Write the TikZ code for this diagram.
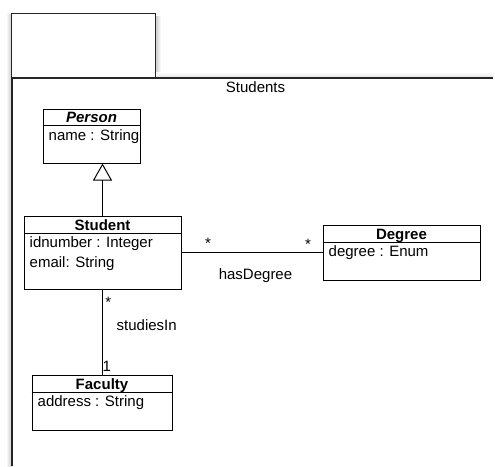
\documentclass[tikz,border=0pt]{standalone}
\usepackage{fontspec}
\setmainfont{Liberation Sans}
\usetikzlibrary{arrows.meta}

\begin{document}
\begin{tikzpicture}[x=1pt,y=-1pt,
  font=\fontsize{15}{19}\selectfont,
  frame/.style={draw=black!85, line width=1.2pt},
  classbox/.style={draw, line width=1pt, fill=white, inner sep=0pt},
  classtitle/.style={anchor=base, inner sep=0pt, font=\fontsize{15}{19}\selectfont\bfseries},
  attr/.style={anchor=base west, inner sep=0pt},
  lbl/.style={inner sep=0pt},
  link/.style={line width=1pt}
]
\useasboundingbox (0,0) rectangle (495,466);

% soft shadows along the package outline
\shade[left color=white, right color=black!22] (6,14) rectangle (12,466);
\shade[left color=black!22, right color=white] (155,16) rectangle (161,78);
\shade[top color=white, bottom color=black!12] (155,72) rectangle (493,78);

% package frame: tab and body
\node[inner sep=0pt, minimum width=143pt, minimum height=64pt] (tab) at (83.5,46) {};
\draw[frame] (tab.south west) -- (tab.north west) -- (tab.north east) -- (tab.south east);
\coordinate (bodyTL) at (12,78);
\coordinate (bodyTR) at (493,78);
\coordinate (bodyBL) at (12,466);
\draw[frame] (bodyTR) -- (bodyTL) -- (bodyBL);
\node[anchor=base, inner sep=0pt] (pkgname) at (255.5,92.5) {Students};

% Person
\node[classbox, minimum width=97pt, minimum height=54pt] (person) at (91.5,136) {};
\draw[link] ([yshift=-17pt]person.north west) -- ([yshift=-17pt]person.north east);
\node[classtitle] (personT) at ([yshift=-13.5pt]person.north) {\itshape Person};
\node[attr] (personA) at ([xshift=6pt,yshift=-32pt]person.north west) {name : String};

% Student
\node[classbox, minimum width=157pt, minimum height=73pt] (student) at (102.5,252.5) {};
\draw[link] ([yshift=-18pt]student.north west) -- ([yshift=-18pt]student.north east);
\node[classtitle] (studentT) at ([yshift=-14.5pt]student.north) {Student};
\node[attr] (studentA) at ([xshift=6pt,yshift=-31.5pt]student.north west) {idnumber : Integer};
\node[attr] (studentB) at ([xshift=6pt,yshift=-51.5pt]student.north west) {email: String};

% Degree
\node[classbox, minimum width=157pt, minimum height=55pt] (degree) at (401.5,252.5) {};
\draw[link] ([yshift=-18pt]degree.north west) -- ([yshift=-18pt]degree.north east);
\node[classtitle] (degreeT) at ([yshift=-14.5pt]degree.north) {Degree};
\node[attr] (degreeA) at ([xshift=6pt,yshift=-32pt]degree.north west) {degree : Enum};

% Faculty
\node[classbox, minimum width=140pt, minimum height=55pt] (faculty) at (102,402.5) {};
\draw[link] ([yshift=-18pt]faculty.north west) -- ([yshift=-18pt]faculty.north east);
\node[classtitle] (facultyT) at ([yshift=-14.5pt]faculty.north) {Faculty};
\node[attr] (facultyA) at ([xshift=6pt,yshift=-32pt]faculty.north west) {address : String};

% generalization Student -> Person
\draw[link, -{Triangle[open, length=17pt, width=19pt, line width=1pt]}]
  (student.north) -- (student.north |- person.south);

% association hasDegree
\draw[link] (student.east) -- (degree.west);
\node[lbl] (m1) at (208,243.5) {*};
\node[lbl] (m2) at (308,244.5) {*};
\node[anchor=base, inner sep=0pt] (hasdeg) at (255.5,279) {hasDegree};

% association studiesIn
\draw[link] (student.south) -- (student.south |- faculty.north);
\node[lbl] (m3) at (108.3,302.5) {*};
\node[anchor=base west, inner sep=0pt] (studies) at (116.5,330) {studiesIn};
\node[anchor=base west, inner sep=0pt] (m4) at (102.5,371) {1};
\end{tikzpicture}
\end{document}
